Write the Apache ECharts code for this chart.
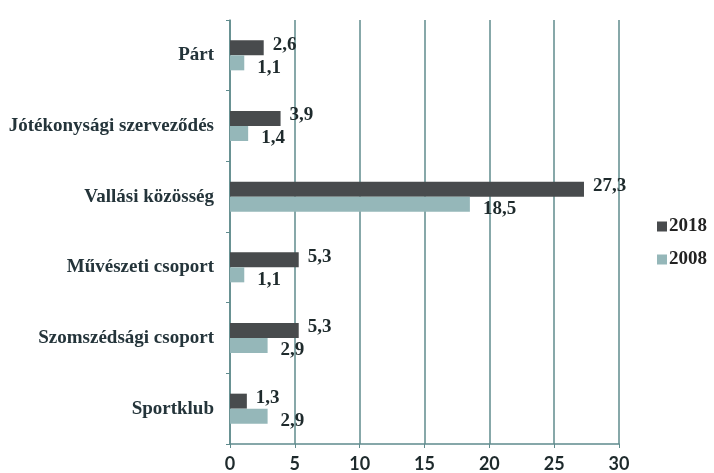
<!DOCTYPE html>
<html>
<head>
<meta charset="utf-8">
<script src="https://cdn.jsdelivr.net/npm/echarts@6/dist/echarts.min.js"></script>
<style>
  html, body { margin: 0; padding: 0; background: #fff; }
  #chart { width: 714px; height: 473px; }
</style>
</head>
<body>
<div id="chart"></div>
<script>
  const categories = ['Párt', 'Jótékonysági szerveződés', 'Vallási közösség', 'Művészeti csoport', 'Szomszédsági csoport', 'Sportklub']
  const values2018 = [2.6, 3.9, 27.3, 5.3, 5.3, 1.3]
  const values2008 = [1.1, 1.4, 18.5, 1.1, 2.9, 2.9]
  const seriesNames = ['2018', '2008']

  const serif = '"Liberation Serif", "DejaVu Serif", serif'
  const axisColor = '#5f8b8d'
  const fmt = (p) => String(p.value).replace('.', ',')

  const chart = echarts.init(document.getElementById('chart'))
  chart.setOption({
    animation: false,
    backgroundColor: '#fff',
    grid: { left: 230, right: 95, top: 20, bottom: 29 },
    legend: {
      orient: 'vertical',
      left: 652,
      top: 212,
      icon: 'rect',
      itemWidth: 10,
      itemHeight: 10,
      itemGap: 14,
      textStyle: { fontFamily: serif, fontWeight: 'bold', fontSize: 19, color: '#222', padding: [0, 0, 0, -3] },
      data: seriesNames,
    },
    xAxis: {
      type: 'value',
      min: 0,
      max: 30,
      interval: 5,
      axisLine: { show: true, lineStyle: { color: axisColor, width: 1.5 } },
      axisTick: { show: true, length: 4, lineStyle: { color: axisColor } },
      splitLine: { show: true, lineStyle: { color: axisColor, width: 1.5 } },
      axisLabel: { fontFamily: 'Lato, "Open Sans", sans-serif', fontWeight: 'bold', fontSize: 18, color: '#1e2a2c', margin: 11 },
    },
    yAxis: {
      type: 'category',
      inverse: true,
      data: categories,
      axisLine: { show: true, lineStyle: { color: axisColor, width: 1.5 } },
      axisTick: { show: true, length: 4, lineStyle: { color: axisColor } },
      axisLabel: { fontFamily: serif, fontWeight: 'bold', fontSize: 19, color: '#24343a', margin: 16 },
    },
    series: [
      {
        name: seriesNames[0],
        type: 'bar',
        data: values2018,
        barWidth: 15,
        barGap: '0%',
        itemStyle: { color: '#484b4d' },
        label: {
          show: true,
          position: 'right',
          distance: 9,
          offset: [0, -3],
          formatter: fmt,
          fontFamily: serif,
          fontWeight: 'bold',
          fontSize: 19,
          color: '#1e2a2c',
        },
      },
      {
        name: seriesNames[1],
        type: 'bar',
        data: values2008,
        barWidth: 15,
        itemStyle: { color: '#95b7b9' },
        label: {
          show: true,
          position: 'right',
          distance: 13,
          offset: [0, 5],
          formatter: fmt,
          fontFamily: serif,
          fontWeight: 'bold',
          fontSize: 19,
          color: '#1e2a2c',
        },
      },
    ],
  })
</script>
</body>
</html>
